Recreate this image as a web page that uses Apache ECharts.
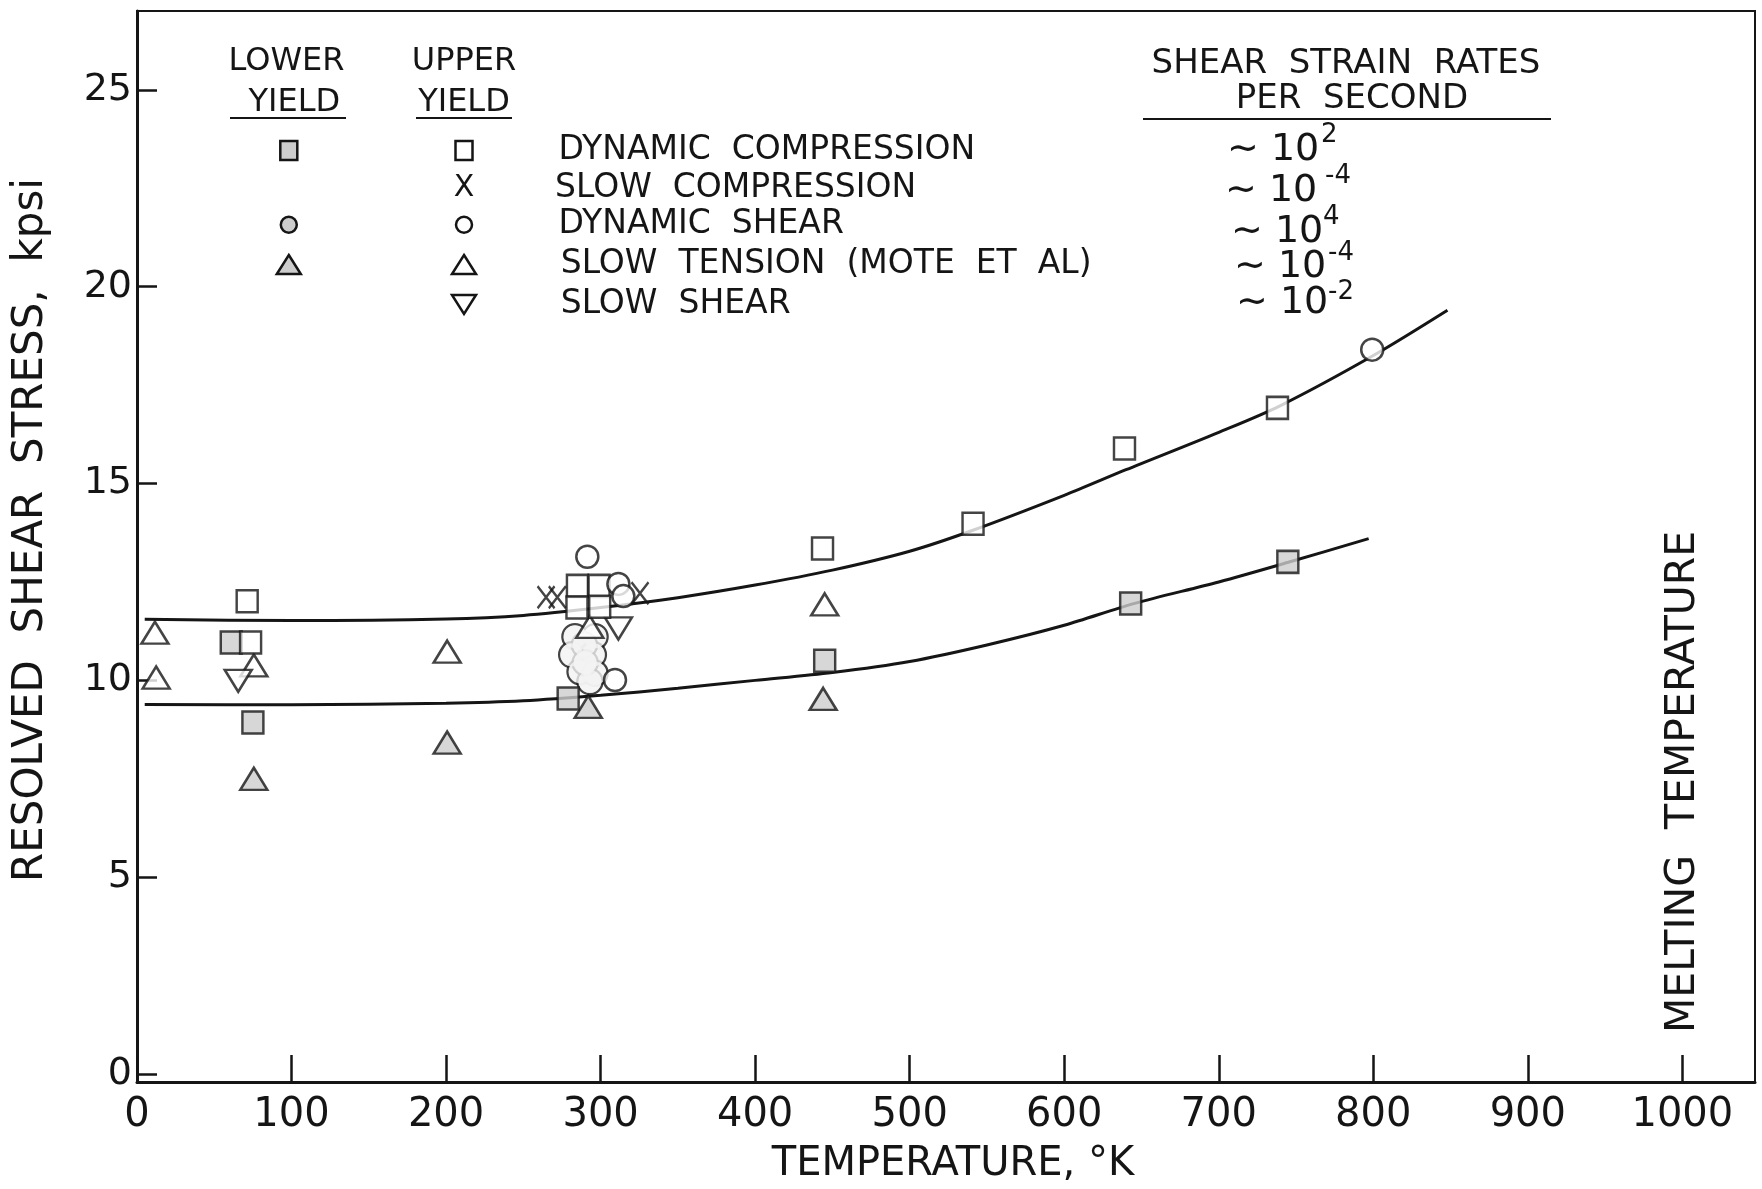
<!DOCTYPE html>
<html>
<head>
<meta charset="utf-8">
<script src="https://cdn.jsdelivr.net/npm/echarts@6/dist/echarts.min.js"></script>
<style>html,body{margin:0;padding:0;background:#fff}#c{width:1762px;height:1189px}</style>
</head>
<body>
<div id="c"></div>
<script>
// ---------- data ----------
const xTicks = [0, 100, 200, 300, 400, 500, 600, 700, 800, 900, 1000];
const yTicks = [0, 5, 10, 15, 20, 25];

// fitted curves (upper yield and lower yield)
const upperCurve = [[5,11.55],[100,11.52],[200,11.56],[250,11.65],[300,11.85],[350,12.1],[400,12.42],[450,12.8],[500,13.28],[540,13.8],[600,14.7],[640,15.35],[700,16.3],[740,16.98],[800,18.25],[848,19.4]];
const lowerCurve = [[5,9.39],[100,9.38],[200,9.42],[250,9.48],[300,9.62],[350,9.8],[400,10.0],[450,10.2],[500,10.48],[550,10.9],[600,11.4],[645,11.95],[700,12.5],[745,13.0],[797,13.6]];

// dynamic compression
const dynCompUpper = [[71.3,12.01],[73.5,10.96],[285,12.4],[299,12.4],[284.7,11.85],[299.4,11.87],[443.6,13.35],[541,13.98],[639,15.89],[738,16.92]];
const dynCompLower = [[61,10.96],[75,8.93],[279,9.54],[445,10.5],[643,11.95],[744.7,13.01]];
// slow compression
const slowCompUpper = [[264.7,12.11],[272,12.11],[325.5,12.21]];
// dynamic shear
const dynShearUpper = [[291.4,13.14],[311.5,12.45],[314.7,12.14],[309.3,10.01],[799.3,18.4]];
const dynShearLower = [[283.4,11.11],[296.4,11.11],[281.3,10.65],[295.3,10.65],[286.7,10.22],[296.4,10.18],[293.1,9.97],[289.5,10.9],[290,10.45]];
// slow tension (Mote et al)
const slowTensionUpper = [[11.6,11.21],[12.4,10.07],[75.6,10.38],[200.7,10.73],[293,11.36],[445,11.93]];
const slowTensionLower = [[75.6,7.5],[200.7,8.42],[292,9.33],[444,9.53]];
// slow shear
const slowShearUpper = [[65.5,9.99],[311.5,11.32]];

const legendRows = ['DYNAMIC  COMPRESSION', 'SLOW  COMPRESSION', 'DYNAMIC  SHEAR', 'SLOW  TENSION  (MOTE  ET  AL)', 'SLOW  SHEAR'];
const rateExps = ['2', '-4', '4', '-4', '-2'];

// ---------- style ----------
const INK = '#151515';
const SHADE = '#cdcdcd';
const FONT = 'DejaVu Sans';
const openStyle = {color: '#ffffff', borderColor: INK, borderWidth: 2.5};
const shadeStyle = {color: SHADE, borderColor: INK, borderWidth: 2.5};

const chart = echarts.init(document.getElementById('c'));

function txt(text, x, y, size, opts) {
  opts = opts || {};
  return {
    type: 'text', x: x, y: y, rotation: opts.rot || 0, z: 50,
    style: {
      text: text, fill: INK, fontFamily: FONT, fontSize: size,
      align: opts.align || 'center', textAlign: opts.align || 'center',
      verticalAlign: 'middle', textVerticalAlign: 'middle'
    }
  };
}
function hline(x1, x2, y) {
  return {type: 'line', z: 50, shape: {x1: x1, y1: y, x2: x2, y2: y}, style: {stroke: INK, lineWidth: 2.2}};
}
function rect(cx, cy, w, h, fill) {
  return {type: 'rect', z: 50, shape: {x: cx - w / 2, y: cy - h / 2, width: w, height: h}, style: {fill: fill, stroke: INK, lineWidth: 2.5}};
}
function circ(cx, cy, r, fill) {
  return {type: 'circle', z: 50, shape: {cx: cx, cy: cy, r: r}, style: {fill: fill, stroke: INK, lineWidth: 2.5}};
}
function tri(cx, cy, w, h, fill, down) {
  const pts = down
    ? [[cx - w / 2, cy - h / 2], [cx + w / 2, cy - h / 2], [cx, cy + h / 2]]
    : [[cx, cy - h / 2], [cx + w / 2, cy + h / 2], [cx - w / 2, cy + h / 2]];
  return {type: 'polygon', z: 50, shape: {points: pts}, style: {fill: fill, stroke: INK, lineWidth: 2.5}};
}

// legend layout (pixels)
const rowY = [150.6, 188.5, 224.7, 264.5, 304.5];
const lowX = 288.8, upX = 464;
const graphics = [
  txt('LOWER', 286.5, 62, 32), txt('YIELD', 294.4, 102.5, 32), hline(230, 346, 118),
  txt('UPPER', 464, 62, 32), txt('YIELD', 464, 102.5, 32), hline(416, 512, 118),
  txt('SHEAR  STRAIN  RATES', 1346, 64, 34), txt('PER  SECOND', 1352, 99, 34), hline(1143, 1551, 119),
  rect(lowX, rowY[0], 17, 19, SHADE), rect(upX, rowY[0], 17, 19, '#fff'),
  txt('X', upX, rowY[1], 30),
  circ(lowX, rowY[2], 8, SHADE), circ(upX, rowY[2], 8, '#fff'),
  tri(lowX, rowY[3], 24, 19, SHADE, false), tri(upX, rowY[3], 24, 19, '#fff', false),
  tri(upX, rowY[4], 24, 19, '#fff', true),
  txt('RESOLVED  SHEAR  STRESS,  kpsi', 31.5, 530, 42, {rot: Math.PI / 2}),
  txt('TEMPERATURE, °K', 953, 1165, 40),
  txt('MELTING  TEMPERATURE', 1683, 782, 41, {rot: Math.PI / 2})
];
const textX = [558.5, 555, 558.5, 560.7, 560.7];
legendRows.forEach((t, i) => graphics.push(txt(t, textX[i], rowY[i], 33, {align: 'left'})));
const rateX = [1227, 1225, 1231, 1234, 1236];
const rateY = [150.6, 191, 232.6, 267.4, 303.4];
const supX = [1321, 1325, 1323, 1328, 1328];
const supY = [134.8, 176.4, 216.9, 252.8, 292.2];
rateExps.forEach((e, i) => {
  graphics.push(txt('\u223C 10', rateX[i], rateY[i], 38, {align: 'left'}));
  graphics.push(txt(e, supX[i], supY[i], 26, {align: 'left'}));
});

const option = {
  animation: false,
  backgroundColor: '#ffffff',
  grid: {left: 137, top: 11, right: 7, bottom: 107, show: true, borderColor: INK, borderWidth: 2, backgroundColor: 'transparent'},
  xAxis: {
    type: 'value', min: 0, max: 1047,
    axisLine: {onZero: false, lineStyle: {color: INK, width: 3}},
    axisTick: {inside: true, length: 27, customValues: xTicks, lineStyle: {color: INK, width: 2.5}},
    axisLabel: {customValues: xTicks, formatter: v => String(v), fontFamily: FONT, fontSize: 40, color: INK, margin: 14},
    splitLine: {show: false}
  },
  yAxis: {
    type: 'value', min: -0.2, max: 27,
    axisLine: {onZero: false, lineStyle: {color: INK, width: 3}},
    axisTick: {inside: true, length: 20, customValues: yTicks, lineStyle: {color: INK, width: 2.5}},
    axisLabel: {customValues: yTicks, formatter: v => String(v), fontFamily: FONT, fontSize: 38, color: INK, margin: 5},
    splitLine: {show: false}
  },
  graphic: graphics,
  series: [
    {type: 'line', data: upperCurve, smooth: 0.3, showSymbol: false, symbol: 'none', lineStyle: {color: INK, width: 3}, z: 2, silent: true},
    {type: 'line', data: lowerCurve, smooth: 0.3, showSymbol: false, symbol: 'none', lineStyle: {color: INK, width: 3}, z: 2, silent: true},
    // blob of dynamic shear lower-yield points: outline then fill to merge
    {type: 'scatter', data: dynShearLower, symbol: 'circle', symbolSize: 25, itemStyle: {color: '#fff', borderColor: INK, borderWidth: 2.5}, z: 3},
    {type: 'scatter', data: dynShearLower, symbol: 'circle', symbolSize: 23, itemStyle: {color: '#f3f3f3', borderWidth: 0}, z: 4},
    {type: 'scatter', data: slowTensionLower, symbol: 'triangle', symbolSize: [27, 22], itemStyle: shadeStyle, z: 5},
    {type: 'scatter', data: dynCompLower, symbol: 'rect', symbolSize: [21, 22], itemStyle: shadeStyle, z: 5},
    {type: 'scatter', data: slowTensionUpper, symbol: 'triangle', symbolSize: [27, 22], itemStyle: openStyle, z: 5},
    {type: 'scatter', data: slowShearUpper, symbol: 'triangle', symbolRotate: 180, symbolSize: [27, 22], itemStyle: openStyle, z: 5},
    {type: 'scatter', data: dynCompUpper, symbol: 'rect', symbolSize: [21, 22], itemStyle: openStyle, z: 6},
    {type: 'scatter', data: dynShearUpper, symbol: 'circle', symbolSize: 22, itemStyle: openStyle, z: 6},
    {type: 'scatter', data: slowCompUpper, symbol: 'path://M0,0L14,20M14,0L0,20', symbolSize: [17, 22], itemStyle: {color: 'transparent', borderColor: INK, borderWidth: 2.5}, z: 6}
  ]
};
chart.setOption(option);
</script>
</body>
</html>
